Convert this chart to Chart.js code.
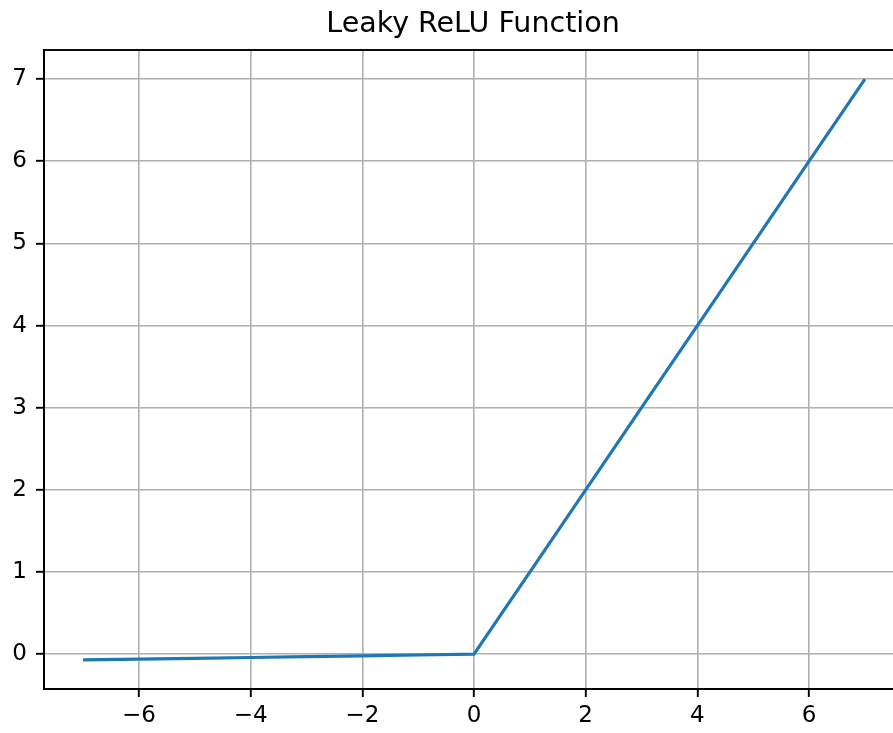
<!DOCTYPE html>
<html>
<head>
<meta charset="utf-8">
<script src="https://cdn.jsdelivr.net/npm/chart.js@4.4.1/dist/chart.umd.min.js"></script>
<style>
  html, body { margin: 0; padding: 0; background: #fff; overflow: hidden; }
  #wrap { width: 946px; height: 733px; }
</style>
</head>
<body>
<div id="wrap"><canvas id="line-chart" width="946" height="733"></canvas></div>
<script>
// Leaky ReLU sampled values
var xValues = [-7, -6, -5, -4, -3, -2, -1, 0, 1, 2, 3, 4, 5, 6, 7];
var yValues = [-0.07, -0.06, -0.05, -0.04, -0.03, -0.02, -0.01, 0, 1, 2, 3, 4, 5, 6, 7];
var xTicks = [-6, -4, -2, 0, 2, 4, 6];
var yTicks = [0, 1, 2, 3, 4, 5, 6, 7];

var points = [];
for (var i = 0; i < xValues.length; i++) {
  points.push({ x: xValues[i], y: yValues[i] });
}

function fmt(v) {
  return v < 0 ? '\u2212' + Math.abs(v) : String(v);
}

// matplotlib draws a box on all four sides
var frame = {
  id: 'frame',
  afterDraw: function (chart) {
    var a = chart.chartArea, ctx = chart.ctx;
    ctx.save();
    ctx.strokeStyle = '#000';
    ctx.lineWidth = 1.9;
    ctx.strokeRect(a.left, a.top, a.right - a.left, a.bottom - a.top);
    ctx.restore();
  }
};

var tickFont = { family: 'DejaVu Sans', size: 23 };

new Chart(document.getElementById('line-chart'), {
  type: 'line',
  data: {
    datasets: [{
      data: points,
      borderColor: '#1f77b4',
      borderWidth: 3.2,
      pointRadius: 0,
      fill: false,
      tension: 0
    }]
  },
  options: {
    responsive: false,
    animation: false,
    layout: { padding: 0 },
    plugins: {
      legend: { display: false },
      tooltip: { enabled: false },
      title: {
        display: true,
        text: 'Leaky ReLU Function',
        color: '#000',
        font: { family: 'DejaVu Sans', size: 28.5, weight: 'normal' },
        padding: { top: 7, bottom: 8.8 }
      }
    },
    scales: {
      x: {
        type: 'linear',
        min: -7.7,
        max: 7.7,
        afterBuildTicks: function (s) { s.ticks = xTicks.map(function (v) { return { value: v }; }); },
        afterFit: function (s) { s.height = 44; },
        grid: { color: '#b0b0b0', lineWidth: 1.6, tickColor: '#000', tickLength: 8, tickWidth: 1.9 },
        border: { color: '#000', width: 1.9 },
        ticks: { color: '#000', font: tickFont, padding: 5, maxRotation: 0, autoSkip: false, callback: fmt }
      },
      y: {
        type: 'linear',
        min: -0.4235,
        max: 7.3535,
        afterBuildTicks: function (s) { s.ticks = yTicks.map(function (v) { return { value: v }; }); },
        afterFit: function (s) { s.width = 44; },
        grid: { color: '#b0b0b0', lineWidth: 1.6, tickColor: '#000', tickLength: 8, tickWidth: 1.9 },
        border: { color: '#000', width: 1.9 },
        ticks: { color: '#000', font: tickFont, padding: 9, autoSkip: false, callback: fmt }
      },
      // empty right margin so the title stays centred over the plot
      yRight: {
        type: 'linear',
        position: 'right',
        display: true,
        afterFit: function (s) { s.width = 42; },
        grid: { display: false, drawTicks: false },
        border: { display: false },
        ticks: { display: false }
      }
    }
  },
  plugins: [frame]
});
</script>
</body>
</html>
